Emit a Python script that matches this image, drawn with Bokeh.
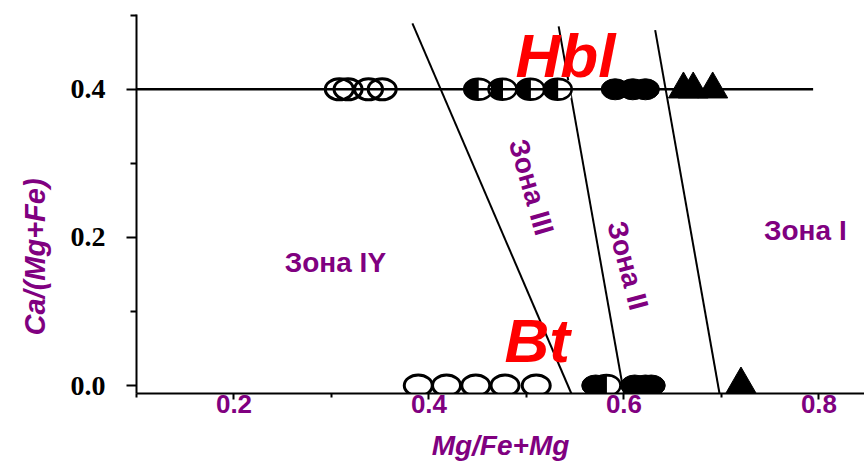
from bokeh.plotting import figure
from bokeh.models import FixedTicker, PrintfTickFormatter, Title
from bokeh.core.properties import value
from bokeh.embed import file_html
from bokeh.resources import INLINE

# ---------------- data ----------------
x_start, x_end = 0.10, 0.8467
y_start, y_end = -0.0108, 0.501

# Hbl row (Ca/(Mg+Fe) = 0.4)
hbl_open_x = [0.308, 0.317, 0.338, 0.352]
hbl_half_x = [0.4505, 0.4754, 0.504, 0.532]
hbl_fill_x = [0.591, 0.609, 0.622]
hbl_tri_x = [0.661, 0.671, 0.691]
hbl_y = 0.4

# Bt row (Ca/(Mg+Fe) = 0.0)
bt_open_x = [0.389, 0.418, 0.448, 0.478, 0.510]
bt_fill_x = [0.571, 0.611, 0.622, 0.628]
bt_half_x = [0.582]
bt_tri_x = [0.720]
bt_y = 0.0

# Hbl reference line
hbl_line_x = [0.10, 0.794]
hbl_line_y = [0.4, 0.4]

# zone boundary lines
zone_x_top = [0.383, 0.533, 0.632]
zone_y_top = [0.489, 0.485, 0.480]
zone_x_bot = [0.546, 0.600, 0.698]
zone_y_bot = [-0.0108, -0.0108, -0.0108]

# zone labels
zone_text = ["Зона IY", "Зона III", "Зона II", "Зона I"]
zone_tx = [0.304, 0.505, 0.604, 0.786]
zone_ty = [0.166, 0.268, 0.162, 0.209]
zone_angle = [0.0, -1.29, -1.31, 0.0]

# mineral labels
min_text = ["Hbl", "Bt"]
min_tx = [0.540, 0.511]
min_ty = [0.446, 0.061]

x_ticks = [0.2, 0.4, 0.6, 0.8]
x_minor = [0.1, 0.3, 0.5, 0.7]
y_ticks = [0.0, 0.2, 0.4]
y_minor = [0.1, 0.3, 0.5]

PURPLE = "#800080"
RED = "#ff0000"

FRAME_W = 728

p = figure(width=864, height=465, x_range=(x_start, x_end), y_range=(y_start, y_end),
           output_backend="svg", toolbar_location=None,
           min_border_left=136, min_border_right=0, min_border_top=14, min_border_bottom=72)
p.grid.visible = False
p.outline_line_color = None
p.background_fill_color = "white"

# axes
p.xaxis.ticker = FixedTicker(ticks=x_ticks, minor_ticks=x_minor)
p.xaxis.formatter = PrintfTickFormatter(format="%.1f")
p.xaxis.axis_line_width = 2
p.xaxis.major_tick_line_width = 2
p.xaxis.minor_tick_line_width = 2
p.xaxis.major_tick_out = 6
p.xaxis.major_tick_in = 0
p.xaxis.minor_tick_out = 4
p.xaxis.minor_tick_in = 0
p.xaxis.major_label_text_font = "Liberation Sans"
p.xaxis.major_label_text_font_style = "bold"
p.xaxis.major_label_text_font_size = "26px"
p.xaxis.major_label_text_color = PURPLE
p.xaxis.major_label_standoff = -5
p.xaxis.axis_label = "Mg/Fe+Mg"
p.xaxis.axis_label_text_font = "Liberation Sans"
p.xaxis.axis_label_text_font_style = "bold italic"
p.xaxis.axis_label_text_font_size = "28px"
p.xaxis.axis_label_text_color = PURPLE
p.xaxis.axis_label_standoff = 14

p.yaxis.ticker = FixedTicker(ticks=y_ticks, minor_ticks=y_minor)
p.yaxis.formatter = PrintfTickFormatter(format="%.1f")
p.yaxis.axis_line_width = 2
p.yaxis.major_tick_line_width = 2
p.yaxis.minor_tick_line_width = 2
p.yaxis.major_tick_out = 10
p.yaxis.major_tick_in = 0
p.yaxis.minor_tick_out = 6
p.yaxis.minor_tick_in = 0
p.yaxis.major_label_text_font = "Liberation Serif"
p.yaxis.major_label_text_font_style = "bold"
p.yaxis.major_label_text_font_size = "28px"
p.yaxis.major_label_text_color = "black"
p.yaxis.major_label_standoff = 21

# y axis title as a left-side title, placed lower like the reference
p.add_layout(Title(text="Ca/(Mg+Fe)", align="left", offset=58, standoff=33,
                   text_font="Liberation Sans", text_font_style="bold italic", text_font_size="29px",
                   text_color=PURPLE), "left")

# pixel -> data helper for marker half offsets
dx_half = 7 * (x_end - x_start) / FRAME_W

MW, MH = 28, 21

def open_marks(xs, y):
    p.ellipse(xs, [y] * len(xs), width=MW, height=MH, width_units="screen", height_units="screen",
              fill_color=None, line_color="black", line_width=3)

def fill_marks(xs, y):
    p.ellipse(xs, [y] * len(xs), width=MW, height=MH, width_units="screen", height_units="screen",
              fill_color="black", line_color="black", line_width=1)

def half_marks(xs, y):
    ys = [y] * len(xs)
    p.ellipse(xs, ys, width=MW, height=MH, width_units="screen", height_units="screen",
              fill_color="black", line_color=None)
    p.rect([v + dx_half for v in xs], ys, width=MW / 2 - 1, height=MH - 3,
           width_units="screen", height_units="screen", fill_color="white", line_color=None)
    p.ellipse(xs, ys, width=MW, height=MH, width_units="screen", height_units="screen",
              fill_color=None, line_color="black", line_width=2.5)

# zone boundary lines
p.segment(zone_x_top, zone_y_top, zone_x_bot, zone_y_bot, line_color="black", line_width=2)

# Hbl markers
open_marks(hbl_open_x, hbl_y)
half_marks(hbl_half_x, hbl_y)
fill_marks(hbl_fill_x, hbl_y)
p.scatter(hbl_tri_x, [hbl_y] * len(hbl_tri_x), marker="triangle", size=30,
          fill_color="black", line_color="black")

# Bt markers
open_marks(bt_open_x, bt_y)
fill_marks(bt_fill_x[:1], bt_y)
half_marks(bt_half_x, bt_y)
fill_marks(bt_fill_x[1:], bt_y)
p.scatter(bt_tri_x, [bt_y] * len(bt_tri_x), marker="triangle", size=32,
          fill_color="black", line_color="black")

# Hbl line on top
p.line(hbl_line_x, hbl_line_y, line_color="black", line_width=2.5)

# zone labels
for t, x, y, a in zip(zone_text, zone_tx, zone_ty, zone_angle):
    p.text([x], [y], text=[t], angle=a, text_font=value("Liberation Sans"), text_font_style="bold",
           text_font_size="28px", text_color=PURPLE, text_align="center", text_baseline="middle")

# mineral labels
p.text(min_tx, min_ty, text=min_text, text_font=value("Liberation Sans"), text_font_style="bold italic",
       text_font_size="62px", text_color=RED, text_align="center", text_baseline="middle")

open("out.html", "w").write(file_html(p, INLINE))
